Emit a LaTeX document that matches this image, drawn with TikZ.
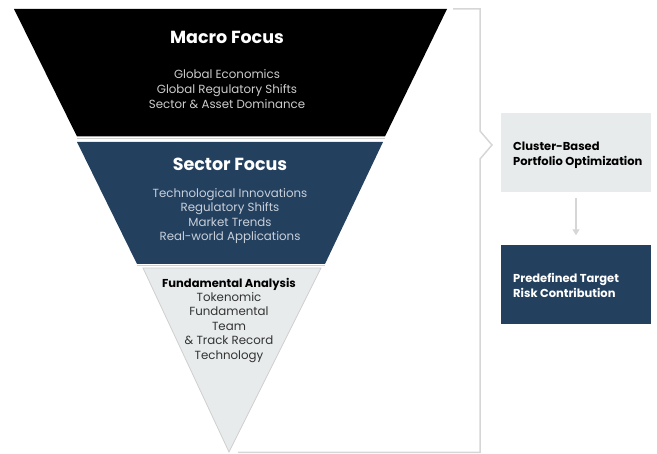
\documentclass[tikz,border=0pt]{standalone}
\usepackage{fontspec}
\setmainfont{Poppins}
\usetikzlibrary{arrows.meta}
\definecolor{navy}{HTML}{24405F}
\definecolor{trifill}{HTML}{E7EBEB}
\definecolor{triborder}{HTML}{CFCFCF}
\definecolor{bracketgray}{HTML}{D6D6D6}
\definecolor{subgray}{HTML}{CCCCCC}
\definecolor{subblue}{HTML}{C8D0DA}
\definecolor{darktext}{HTML}{333333}
\begin{document}
\begin{tikzpicture}[x=1pt,y=-1pt,
  sep/.style={draw=triborder,line width=1.2pt},
  bracket/.style={draw=bracketgray,line width=1.5pt},
  title/.style={font=\fontsize{17.5}{20}\selectfont\bfseries,text=white,align=center},
  items/.style={font=\fontsize{11.8}{14.6}\selectfont,align=center},
  sidebox/.style={minimum width=150pt,minimum height=79pt,inner sep=0pt},
  boxtext/.style={anchor=west,align=left,inner sep=0pt,font=\fontsize{11.5}{15}\selectfont\bfseries},
  arr/.style={draw=bracketgray,line width=1.2pt,-{Triangle[width=7pt,length=6pt]}}
]
\useasboundingbox (0,0) rectangle (657,454);
% funnel
\fill[black] (14,9) -- (447,9) -- (385,136.5) -- (77,136.5) -- cycle;
\draw[sep] (77,138.2) -- (385,138.2);
\fill[navy] (77,142) -- (383,142) -- (325,264) -- (137,264) -- cycle;
\draw[sep] (137,265.6) -- (325,265.6);
\filldraw[fill=trifill,draw=triborder,line width=0.8pt] (143,268) -- (321,268) -- (229,452) -- cycle;
% bracket
\draw[bracket] (453,9) -- (480,9) -- (480,131) -- (492,145) -- (480,159) -- (480,452.5) -- (238,452.5);
% funnel texts
\node[title] (macro) at (227,37) {Macro Focus};
\node[items,text=subgray] (macroitems) at (227,89) {Global Economics\\Global Regulatory Shifts\\Sector \& Asset Dominance};
\node[title] (sector) at (230,164) {Sector Focus};
\node[items,text=subblue] (sectoritems) at (230,216) {Technological Innovations\\Regulatory Shifts\\Market Trends\\Real-world Applications};
\node[font=\fontsize{11.5}{13}\selectfont\bfseries,text=black] (fund) at (229,284) {Fundamental Analysis};
\node[items,text=darktext] (funditems) at (229,327.5) {Tokenomic\\Fundamental\\Team\\\& Track Record\\Technology};
% side boxes
\node[sidebox,fill=trifill] (cluster) at (576,152.5) {};
\node[boxtext,text=black] (clustertext) at ([xshift=-63pt,yshift=-2.5pt]cluster.center) {Cluster-Based\\Portfolio Optimization};
\node[sidebox,fill=navy] (risk) at (576,285) {};
\node[boxtext,text=white] (risktext) at ([xshift=-63pt,yshift=-0.5pt]risk.center) {Predefined Target\\Risk Contribution};
\draw[arr,shorten <=6pt,shorten >=10pt] (cluster) -- (risk);
\end{tikzpicture}
\end{document}
